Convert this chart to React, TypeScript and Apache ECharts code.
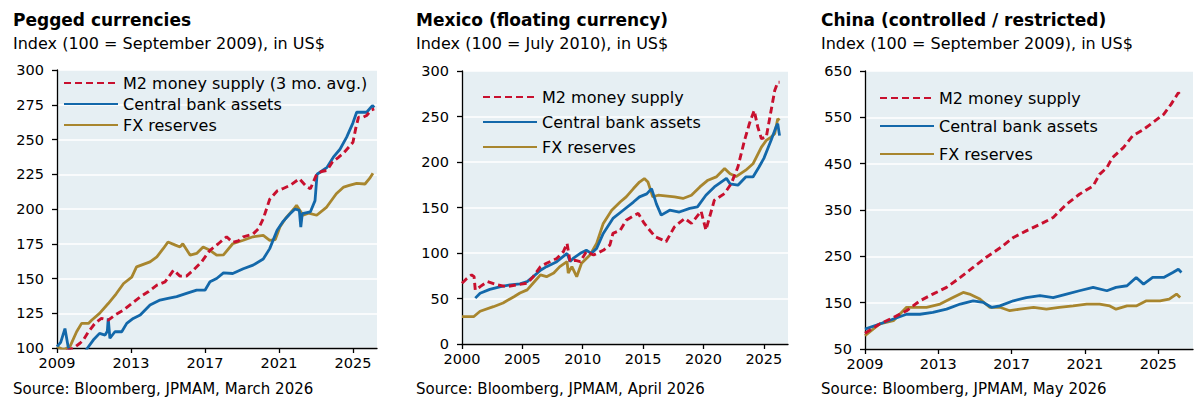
import React, { useEffect, useRef } from "react";
import * as echarts from "echarts";

type Pt = [number, number];

// ---- Pegged currencies (index, 100 = Sep 2009) ----
const peggedM2: Pt[] = [
  [2009.5, 98], [2009.9, 100], [2010.24, 103.4], [2010.42, 105.7], [2010.7, 111.7], [2011.05, 117.7],
  [2011.4, 121.3], [2011.77, 120], [2012.13, 123.7], [2012.6, 127.3], [2013.04, 132], [2013.5, 136.8],
  [2013.93, 140.4], [2014.4, 145.2], [2014.84, 147.6], [2015.3, 156], [2015.65, 151.7], [2016.0, 151.7],
  [2016.37, 156], [2016.82, 162], [2017.27, 170.3], [2017.72, 175], [2018.17, 180], [2018.5, 176],
  [2018.8, 177], [2019.07, 180], [2019.6, 182], [2019.9, 186], [2020.15, 193], [2020.5, 207],
  [2020.9, 213], [2021.2, 214.6], [2021.6, 217], [2022.1, 221.8], [2022.5, 216], [2022.7, 214.6],
  [2023.04, 225], [2023.3, 227], [2023.6, 227.8], [2023.9, 234], [2024.2, 237], [2024.48, 240],
  [2024.84, 245.5], [2025.0, 248], [2025.15, 258], [2025.3, 266], [2025.55, 266], [2025.74, 267.3],
  [2026.0, 271.3], [2026.15, 272],
];
const peggedCB: Pt[] = [
  [2009.0, 101], [2009.2, 104], [2009.43, 114], [2009.6, 101], [2009.8, 96], [2010.2, 94], [2010.5, 97],
  [2010.65, 100], [2010.96, 105.7], [2011.3, 110.5], [2011.6, 109.3], [2011.72, 112], [2011.77, 121.3],
  [2011.86, 107], [2012.13, 111.7], [2012.5, 111.7], [2012.77, 117.7], [2013.12, 121.3], [2013.5, 123.7],
  [2014.03, 130.9], [2014.57, 134.5], [2015.0, 135.7], [2015.47, 137], [2016.0, 139.3], [2016.55, 141.6],
  [2017.0, 141.6], [2017.27, 147.6], [2017.63, 150], [2018.0, 154], [2018.5, 153.6], [2019.07, 157],
  [2019.6, 159.6], [2020.15, 164], [2020.5, 171.5], [2020.9, 184.7], [2021.2, 190.7], [2021.6, 196.6],
  [2021.87, 200], [2022.1, 199], [2022.18, 187], [2022.26, 196.6], [2022.7, 198], [2022.95, 206],
  [2023.06, 225], [2023.6, 230], [2023.94, 237.3], [2024.3, 243], [2024.66, 251.7], [2025.0, 262],
  [2025.2, 269.6], [2025.4, 269.6], [2025.74, 269.6], [2026.05, 274.4], [2026.15, 273],
];
const peggedFX: Pt[] = [
  [2009.0, 101], [2009.35, 98.6], [2009.7, 101], [2010.06, 111.7], [2010.33, 117.7], [2010.7, 117.7],
  [2010.87, 120], [2011.3, 124.9], [2011.77, 132], [2012.2, 139], [2012.6, 146.4], [2013.04, 151],
  [2013.3, 158.4], [2014.03, 162], [2014.4, 165.6], [2014.75, 171.6], [2015.0, 176.3], [2015.4, 174],
  [2015.65, 172.7], [2015.8, 175], [2016.2, 166.8], [2016.55, 168], [2016.9, 172.7], [2017.27, 170.3],
  [2017.63, 166.8], [2018.0, 167], [2018.5, 175], [2019.07, 177.5], [2019.6, 180], [2020.15, 181],
  [2020.5, 177.5], [2020.8, 178], [2021.05, 187], [2021.4, 194], [2021.8, 200], [2021.95, 202.6],
  [2022.3, 195.5], [2022.6, 197], [2023.04, 195.5], [2023.58, 201.4], [2024.1, 211], [2024.5, 215.8],
  [2024.8, 217], [2025.2, 218.4], [2025.65, 218], [2025.9, 222], [2026.08, 225.8],
];

// ---- Mexico (index, 100 = Jul 2010) ----
const mexicoM2: Pt[] = [
  [2000.0, 66.8], [2000.4, 72], [2000.8, 76], [2001.0, 74], [2001.1, 59.5], [2001.5, 63], [2002.1, 68.6],
  [2002.9, 65], [2003.7, 63], [2004.5, 65], [2005.4, 66.8], [2005.9, 74], [2006.5, 85], [2007.0, 88.7],
  [2007.85, 94], [2008.4, 101.5], [2008.7, 110.6], [2008.95, 90.5], [2009.4, 92], [2009.8, 90.5],
  [2010.3, 101.5], [2010.9, 97.8], [2011.7, 103], [2012.25, 108.8], [2012.5, 121.5], [2013.1, 125],
  [2013.6, 136], [2014.3, 141.6], [2014.6, 143.5], [2015.1, 132.5], [2015.55, 125], [2016.0, 117.8],
  [2016.5, 115], [2016.9, 112.4], [2017.6, 128.8], [2018.45, 138], [2019.0, 132.5], [2019.8, 146],
  [2020.2, 125.2], [2020.9, 158], [2021.75, 165.4], [2022.3, 176.3], [2022.85, 194.5], [2023.4, 223.8],
  [2023.8, 242], [2024.2, 256.6], [2024.5, 238.3], [2024.8, 225.6], [2025.2, 227.4], [2025.6, 256.6],
  [2025.9, 278.5], [2026.15, 287.6], [2026.3, 287.6],
];
const mexicoCB: Pt[] = [
  [2001.1, 50.4], [2001.5, 55.8], [2002.3, 60], [2003.2, 63], [2004.0, 65], [2004.8, 66], [2005.4, 68.6],
  [2005.9, 74], [2006.5, 81], [2007.0, 85], [2007.85, 90.5], [2008.7, 99.6], [2008.95, 90.5], [2009.2, 94],
  [2009.8, 99.6], [2010.3, 103], [2010.7, 99.6], [2011.15, 105], [2011.7, 121.5], [2012.5, 138],
  [2013.35, 147], [2014.2, 156], [2014.7, 161.7], [2015.3, 165], [2015.7, 170.8], [2016.1, 154],
  [2016.5, 141.6], [2017.2, 147], [2018.0, 145], [2018.86, 149], [2019.5, 150.7], [2020.2, 163.5],
  [2020.9, 172.6], [2021.9, 182], [2022.2, 176], [2022.85, 174.5], [2023.5, 183.6], [2024.1, 183.6],
  [2024.6, 194.5], [2025.0, 204], [2025.6, 223.8], [2026.0, 238.3], [2026.15, 242], [2026.3, 229],
];
const mexicoFX: Pt[] = [
  [2000.0, 30], [2000.96, 30], [2001.5, 36], [2002.6, 41], [2003.4, 45], [2004.3, 52], [2004.8, 56],
  [2005.4, 59.5], [2005.9, 67], [2006.5, 76], [2007.0, 74], [2007.6, 78], [2008.1, 85], [2008.7, 90.5],
  [2008.8, 78], [2009.1, 85], [2009.5, 74], [2009.9, 88.7], [2010.6, 97.8], [2011.15, 110.6],
  [2011.7, 132.5], [2012.4, 147], [2013.1, 156], [2013.6, 161.7], [2014.2, 170.8], [2014.7, 178],
  [2015.1, 181.8], [2015.4, 178], [2015.8, 161.7], [2016.24, 163.5], [2017.6, 161.7], [2018.3, 159.9],
  [2019.0, 163.5], [2019.7, 172.6], [2020.37, 180], [2021.06, 183.6], [2021.75, 192.8], [2022.2, 187],
  [2022.7, 184], [2023.5, 191], [2024.1, 198], [2024.8, 216.4], [2025.2, 223.7], [2025.6, 227.4],
  [2025.9, 231], [2026.15, 247.5], [2026.3, 245.7],
];

// ---- China (index, 100 = Sep 2009) ----
const chinaM2: Pt[] = [
  [2009.0, 84], [2009.8, 104], [2010.55, 118], [2011.27, 132.6], [2012.0, 154], [2012.7, 168.5],
  [2013.45, 183], [2014.2, 204.5], [2014.9, 226], [2015.6, 247.6], [2016.4, 269], [2017.1, 290.7],
  [2017.8, 305], [2018.55, 319], [2019.27, 333.8], [2020.0, 362.5], [2020.7, 384], [2021.45, 402],
  [2021.8, 427], [2022.2, 441.5], [2022.5, 463], [2023.1, 484.6], [2023.6, 509.8], [2024.2, 524],
  [2024.7, 538.5], [2025.3, 556.5], [2025.7, 578], [2026.1, 603], [2026.2, 599],
];
const chinaCB: Pt[] = [
  [2009.0, 93], [2009.8, 104], [2010.55, 114.7], [2011.27, 125], [2012.0, 125], [2012.7, 129],
  [2013.45, 136], [2014.2, 147], [2014.9, 154], [2015.45, 150.6], [2015.9, 140], [2016.36, 143],
  [2017.1, 154], [2017.8, 161], [2018.55, 165], [2019.27, 161], [2020.0, 168.5], [2020.7, 175.7],
  [2021.45, 183], [2022.2, 175.7], [2022.7, 183], [2023.3, 186.5], [2023.8, 204.5], [2024.2, 190],
  [2024.7, 204.5], [2025.3, 204.5], [2025.8, 215], [2026.1, 222], [2026.27, 215],
];
const chinaFX: Pt[] = [
  [2009.0, 79], [2009.8, 104], [2010.55, 111], [2011.27, 140], [2011.8, 140], [2012.36, 140],
  [2013.1, 147], [2013.8, 161], [2014.36, 172], [2014.7, 168.5], [2015.27, 157.8], [2015.8, 140],
  [2016.36, 140], [2016.9, 132.6], [2017.45, 136], [2018.2, 140], [2018.9, 136], [2019.6, 140],
  [2020.36, 143], [2021.1, 147], [2021.8, 147], [2022.36, 143], [2022.7, 136], [2023.3, 143],
  [2023.8, 143], [2024.36, 154], [2025.1, 154], [2025.6, 157.8], [2026.0, 168.5], [2026.2, 161],
];

const FONT = '"DejaVu Sans", "Liberation Sans", sans-serif';
const RED = "#c8102e";
const BLUE = "#1368aa";
const GOLD = "#a8862e";
const PLOT_BG = "#e6eff3";

interface Panel {
  title: string;
  subtitle: string;
  source: string;
  left: number;
  grid: { left: number; top: number; width: number; height: number };
  xBase: number; // year subtracted so that ticks start on a multiple of the interval
  xMin: number;
  xMax: number;
  xInterval: number;
  yBase: number;
  yMin: number;
  yMax: number;
  yInterval: number;
  m2Name: string;
  m2: Pt[];
  cb: Pt[];
  fx: Pt[];
  legendLeft: number;
  legendTop: number;
  legendGap: number;
}

const panels: Panel[] = [
  {
    title: "Pegged currencies",
    subtitle: "Index (100 = September 2009), in US$",
    source: "Source: Bloomberg, JPMAM, March 2026",
    left: 13,
    grid: { left: 57, top: 70, width: 320, height: 278 },
    xBase: 2009, xMin: 2009, xMax: 2026.3, xInterval: 4,
    yBase: 0, yMin: 100, yMax: 300, yInterval: 25,
    m2Name: "M2 money supply (3 mo. avg.)",
    m2: peggedM2, cb: peggedCB, fx: peggedFX,
    legendLeft: 63, legendTop: 75, legendGap: 5,
  },
  {
    title: "Mexico (floating currency)",
    subtitle: "Index (100 = July 2010), in US$",
    source: "Source: Bloomberg, JPMAM, April 2026",
    left: 416,
    grid: { left: 462, top: 71, width: 326, height: 273 },
    xBase: 0, xMin: 2000, xMax: 2027, xInterval: 5,
    yBase: 0, yMin: 0, yMax: 300, yInterval: 50,
    m2Name: "M2 money supply",
    m2: mexicoM2, cb: mexicoCB, fx: mexicoFX,
    legendLeft: 482, legendTop: 89, legendGap: 9,
  },
  {
    title: "China (controlled / restricted)",
    subtitle: "Index (100 = September 2009), in US$",
    source: "Source: Bloomberg, JPMAM, May 2026",
    left: 821,
    grid: { left: 865, top: 71, width: 328, height: 278 },
    xBase: 2009, xMin: 2009, xMax: 2026.9, xInterval: 4,
    yBase: 50, yMin: 50, yMax: 650, yInterval: 100,
    m2Name: "M2 money supply",
    m2: chinaM2, cb: chinaCB, fx: chinaFX,
    legendLeft: 879, legendTop: 90, legendGap: 12,
  },
];

function buildOption(): echarts.EChartsOption {
  const title: any[] = [];
  const grid: any[] = [];
  const xAxis: any[] = [];
  const yAxis: any[] = [];
  const legend: any[] = [];
  const series: any[] = [];

  panels.forEach((p, i) => {
    title.push({
      text: p.title,
      subtext: p.subtitle,
      left: p.left,
      top: 11,
      padding: 0,
      itemGap: 7,
      textStyle: { fontFamily: FONT, fontSize: 17, fontWeight: "bold", color: "#000" },
      subtextStyle: { fontFamily: FONT, fontSize: 16, color: "#000" },
    });
    title.push({
      text: p.source,
      left: p.left,
      top: 381,
      padding: 0,
      textStyle: { fontFamily: FONT, fontSize: 15, fontWeight: "normal", color: "#000" },
    });

    grid.push({
      ...p.grid,
      show: true,
      backgroundColor: PLOT_BG,
      borderWidth: 0,
      containLabel: false,
    });

    xAxis.push({
      type: "value",
      gridIndex: i,
      min: p.xMin - p.xBase,
      max: p.xMax - p.xBase,
      interval: p.xInterval,
      axisLine: { show: true, onZero: false, lineStyle: { color: "#000", width: 1.3 } },
      axisTick: { show: true, length: 5, lineStyle: { color: "#000", width: 1.3 } },
      splitLine: { show: false },
      axisLabel: {
        fontFamily: FONT,
        fontSize: 14.5,
        color: "#000",
        margin: 7,
        showMaxLabel: false,
        formatter: (v: number) => String(Math.round(v + p.xBase)),
      },
    });

    yAxis.push({
      type: "value",
      gridIndex: i,
      min: p.yMin - p.yBase,
      max: p.yMax - p.yBase,
      interval: p.yInterval,
      axisLine: { show: true, lineStyle: { color: "#000", width: 1.3 } },
      axisTick: { show: true, length: 5, lineStyle: { color: "#000", width: 1.3 } },
      splitLine: { show: true, lineStyle: { color: "#ffffff", width: 1.6 } },
      axisLabel: {
        fontFamily: FONT,
        fontSize: 14.5,
        color: "#000",
        margin: 13,
        formatter: (v: number) => String(Math.round(v + p.yBase)),
      },
    });

    legend.push({
      orient: "vertical",
      left: p.legendLeft,
      top: p.legendTop,
      padding: 0,
      itemWidth: 54,
      itemHeight: 14,
      itemGap: p.legendGap,
      selectedMode: false,
      // line-only keys: the marker dot is hidden, the dashed/solid stroke stays
      itemStyle: { opacity: 0 },
      data: [p.m2Name, "Central bank assets", "FX reserves"],
      textStyle: { fontFamily: FONT, fontSize: 16, color: "#000" },
    });

    const toXY = (pts: Pt[]) => pts.map(([x, y]) => [x - p.xBase, y - p.yBase]);
    const common = {
      type: "line",
      xAxisIndex: i,
      yAxisIndex: i,
      symbol: "none",
      showSymbol: false,
      clip: true,
      silent: true,
    };
    series.push({
      ...common,
      name: p.m2Name,
      data: toXY(p.m2),
      z: 4,
      lineStyle: { color: RED, width: 2.9, type: [7, 4] },
      itemStyle: { color: RED },
    });
    series.push({
      ...common,
      name: "Central bank assets",
      data: toXY(p.cb),
      z: 3,
      lineStyle: { color: BLUE, width: 2.8 },
      itemStyle: { color: BLUE },
    });
    series.push({
      ...common,
      name: "FX reserves",
      data: toXY(p.fx),
      z: 2,
      lineStyle: { color: GOLD, width: 2.8 },
      itemStyle: { color: GOLD },
    });
  });

  return {
    animation: false,
    backgroundColor: "#ffffff",
    title,
    grid,
    xAxis,
    yAxis,
    legend,
    series,
  } as echarts.EChartsOption;
}

export default function App() {
  const ref = useRef<HTMLDivElement>(null);

  useEffect(() => {
    if (!ref.current) return;
    const chart = echarts.init(ref.current, undefined, { renderer: "svg" });
    chart.setOption(buildOption());
    return () => chart.dispose();
  }, []);

  return (
    <div
      ref={ref}
      style={{ position: "absolute", left: 0, top: 0, width: 1204, height: 402, background: "#fff" }}
    />
  );
}
